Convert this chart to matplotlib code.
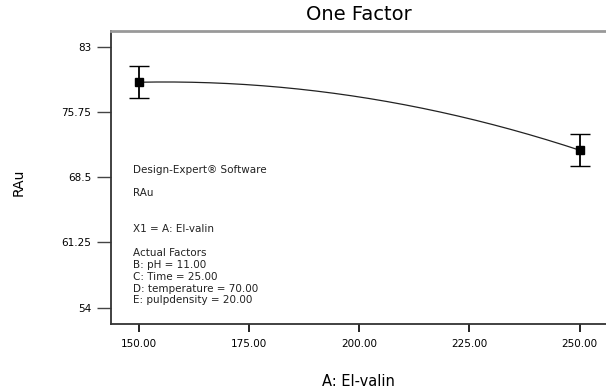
import numpy as np
import matplotlib
matplotlib.use("Agg")
import matplotlib.pyplot as plt

# design points (A: El-valin) with mean response and LSD bars
x_pts = [150.0, 250.0]
y_pts = [79.1, 71.5]
y_err = [1.78, 1.78]

# model prediction
x_curve = [150.0, 175.0, 200.0, 225.0, 250.0]
y_curve = [79.1, 78.8, 77.4, 75.1, 71.5]

x_ticks = [150, 175, 200, 225, 250]
y_ticks = [54, 61.25, 68.5, 75.75, 83]

info = ["Design-Expert® Software", "RAu", "X1 = A: El-valin",
        "Actual Factors", "B: pH = 11.00", "C: Time = 25.00",
        "D: temperature = 70.00", "E: pulpdensity = 20.00"]
info_y = [170, 193, 229, 253, 265, 277, 289, 300]  # pixel rows

plt.rcParams['font.family'] = ['DejaVu Sans']

fig = plt.figure(figsize=(6.06, 3.89), dpi=100)
ax = fig.add_axes([0.183, 0.167, 0.817, 0.753])

coef = np.polyfit(x_curve, y_curve, 2)
xs = np.linspace(x_pts[0], x_pts[-1], 200)
ax.plot(xs, np.polyval(coef, xs), color='#222222', lw=0.9, zorder=2)

ax.errorbar(x_pts, y_pts, yerr=y_err, fmt='s', color='black', ms=5.5,
            ecolor='black', elinewidth=1.3, capsize=7.5, capthick=1.0, zorder=3)

ax.set_xlim(143.65, 256.0)
ax.set_ylim(52.17, 84.78)
ax.set_xticks(x_ticks)
ax.set_xticklabels([f"{v:.2f}" for v in x_ticks], fontsize=7.5)
ax.set_yticks(y_ticks)
ax.set_yticklabels(["54", "61.25", "68.5", "75.75", "83"], fontsize=7.5)
ax.tick_params(axis='y', direction='out', length=10, width=1, pad=4, color='#444444')
ax.tick_params(axis='x', direction='out', length=6, width=1.2, pad=5, color='black')

ax.spines['right'].set_visible(False)
ax.spines['top'].set_color('#999999')
ax.spines['top'].set_linewidth(2)
ax.spines['left'].set_color('#333333')
ax.spines['left'].set_linewidth(1.3)
ax.spines['bottom'].set_color('#333333')
ax.spines['bottom'].set_linewidth(1.3)

fig.text(0.5917, 0.962, "One Factor", fontsize=14, ha='center', va='center')
fig.text(0.5917, 0.02, "A: El-valin", fontsize=10.5, ha='center', va='center')
fig.text(0.03, 0.532, "RAu", fontsize=10, rotation=90, ha='center', va='center')

for line, yp in zip(info, info_y):
    fig.text(133 / 606, 1 - yp / 389, line, fontsize=7.5, ha='left', va='center',
             color='#222222')

fig.savefig("out.png", dpi=100)
